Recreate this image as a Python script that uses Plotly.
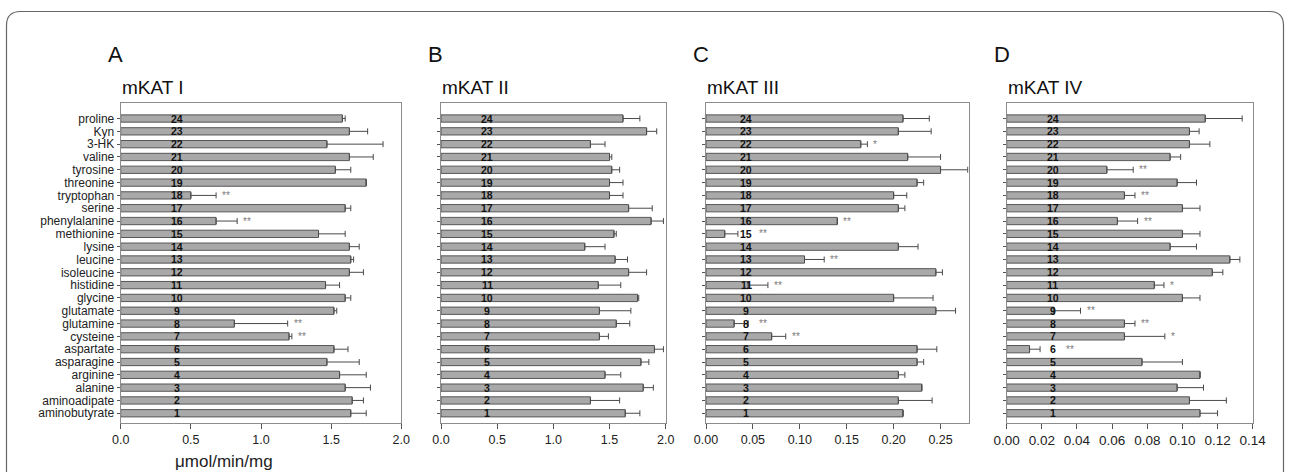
import plotly.graph_objects as go

W, H = 1291, 472
FONT = "Liberation Sans, Arial, Helvetica, sans-serif"

# ---------------- data ----------------
amino_acids = ["aminobutyrate", "aminoadipate", "alanine", "arginine", "asparagine",
               "aspartate", "cysteine", "glutamine", "glutamate", "glycine", "histidine",
               "isoleucine", "leucine", "lysine", "methionine", "phenylalanine", "serine",
               "tryptophan", "threonine", "tyrosine", "valine", "3-HK", "Kyn", "proline"]
bar_numbers = list(range(1, 25))

mkat1_values = [1.64, 1.65, 1.60, 1.56, 1.47, 1.52, 1.20, 0.81, 1.52, 1.60, 1.46, 1.63,
                1.64, 1.63, 1.41, 0.68, 1.60, 0.50, 1.75, 1.53, 1.63, 1.47, 1.63, 1.58]
mkat1_errors = [0.11, 0.08, 0.18, 0.19, 0.23, 0.10, 0.02, 0.38, 0.02, 0.04, 0.10, 0.10,
                0.02, 0.07, 0.19, 0.15, 0.04, 0.18, None, 0.11, 0.17, 0.40, 0.13, 0.02]
mkat1_marks = {18: "**", 16: "**", 8: "**", 7: "**"}

mkat2_values = [1.64, 1.33, 1.80, 1.46, 1.78, 1.90, 1.41, 1.56, 1.41, 1.75, 1.40, 1.67,
                1.55, 1.28, 1.54, 1.87, 1.67, 1.50, 1.50, 1.52, 1.50, 1.33, 1.83, 1.62]
mkat2_errors = [0.13, 0.26, 0.09, 0.14, 0.07, 0.08, 0.08, 0.12, 0.28, 0.01, 0.20, 0.16,
                0.11, 0.18, 0.02, 0.11, 0.21, 0.12, 0.12, 0.07, 0.02, 0.13, 0.09, 0.15]
mkat2_marks = {}

mkat3_values = [0.210, 0.205, 0.230, 0.205, 0.225, 0.225, 0.070, 0.030, 0.245, 0.200,
                0.045, 0.245, 0.105, 0.205, 0.020, 0.140, 0.205, 0.200, 0.225, 0.250,
                0.215, 0.165, 0.205, 0.210]
mkat3_errors = [None, 0.036, None, 0.007, 0.007, 0.021, 0.015, 0.015, 0.021, 0.042,
                0.021, 0.007, 0.021, 0.021, 0.014, None, 0.007, 0.014, 0.007, 0.029,
                0.035, 0.007, 0.035, 0.028]
mkat3_marks = {22: "*", 16: "**", 15: "**", 13: "**", 11: "**", 8: "**", 7: "**"}

mkat4_values = [0.110, 0.104, 0.097, 0.110, 0.077, 0.013, 0.067, 0.067, 0.027, 0.100,
                0.084, 0.117, 0.127, 0.093, 0.100, 0.063, 0.100, 0.067, 0.097, 0.057,
                0.093, 0.104, 0.104, 0.113]
mkat4_errors = [0.010, 0.021, 0.015, None, 0.023, 0.006, 0.023, 0.006, 0.015, 0.010,
                0.0055, 0.006, 0.0057, 0.015, 0.010, 0.0115, 0.010, 0.006, 0.011, 0.015,
                0.006, 0.0116, 0.0055, 0.021]
mkat4_marks = {20: "**", 18: "**", 16: "**", 11: "*", 9: "**", 8: "**", 7: "*", 6: "**"}

panel_letters = ["A", "B", "C", "D"]
panel_titles = ["mKAT I", "mKAT II", "mKAT III", "mKAT IV"]
x_ranges = [[0, 2.0], [0, 2.0], [0, 0.28], [0, 0.14]]
x_tickvals = [[0, 0.5, 1.0, 1.5, 2.0], [0, 0.5, 1.0, 1.5, 2.0],
              [0, 0.05, 0.10, 0.15, 0.20, 0.25],
              [0, 0.02, 0.04, 0.06, 0.08, 0.10, 0.12, 0.14]]
x_tickformats = [".1f", ".1f", ".2f", ".2f"]
x_axis_title = "μmol/min/mg"

values = [mkat1_values, mkat2_values, mkat3_values, mkat4_values]
errors = [mkat1_errors, mkat2_errors, mkat3_errors, mkat4_errors]
marks = [mkat1_marks, mkat2_marks, mkat3_marks, mkat4_marks]

# ---------------- layout geometry (pixels) ----------------
panel_px = [(120.7, 401.3), (441.0, 665.7), (706.0, 968.7), (1006.7, 1252.7)]
top_px, bottom_px = 102.5, 423.0
num_label_px = [56, 46, 40, 46]
tick_font_sizes = [12.5, 12.5, 12.5, 13.5]

fig = go.Figure()
annotations = []

for i in range(4):
    xa = "x" if i == 0 else f"x{i + 1}"
    ya = "y" if i == 0 else f"y{i + 1}"
    l, r = panel_px[i]
    px_per_unit = (r - l) / (x_ranges[i][1] - x_ranges[i][0])

    errs = errors[i]
    errs_minus = [None if e is None else 0 for e in errs]

    fig.add_trace(go.Bar(
        x=values[i], y=bar_numbers, orientation="h", width=0.57,
        marker=dict(color="#a9a9a9", line=dict(color="#4a4a4a", width=0.9)),
        error_x=dict(type="data", symmetric=False, array=errs, arrayminus=errs_minus,
                     color="#4a4a4a", thickness=1, width=3),
        xaxis=xa, yaxis=ya, showlegend=False, hoverinfo="x+y",
    ))

    label_x = num_label_px[i] / px_per_unit
    for n, v in zip(bar_numbers, values[i]):
        annotations.append(dict(
            x=label_x, y=n, xref=xa, yref=ya, text=f"<b>{n}</b>", showarrow=False,
            xanchor="center", yanchor="middle",
            font=dict(family=FONT, size=10.5, color="#111")))

    for n, star in marks[i].items():
        v = values[i][n - 1]
        e = errs[n - 1] or 0
        label_end = (num_label_px[i] + 7) / px_per_unit
        anchor = max(v + e, label_end)
        annotations.append(dict(
            x=anchor, y=n, xref=xa, yref=ya, text=star, showarrow=False,
            xanchor="left", yanchor="middle", xshift=4, yshift=0,
            font=dict(family=FONT, size=10, color="#7a7a7a")))

    fig.layout[("xaxis" if i == 0 else f"xaxis{i + 1}")] = dict(
        domain=[l / W, r / W], range=x_ranges[i], anchor=ya, automargin=False,
        tickvals=x_tickvals[i], tickformat=x_tickformats[i],
        ticks="outside", ticklen=5, tickcolor="#555", tickwidth=1,
        showline=True, linecolor="#8c8c8c", linewidth=1, mirror=True,
        showgrid=False, zeroline=False, fixedrange=True,
        tickfont=dict(family=FONT, size=tick_font_sizes[i], color="#222"),
    )
    fig.layout[("yaxis" if i == 0 else f"yaxis{i + 1}")] = dict(
        domain=[(H - bottom_px) / H, (H - top_px) / H], range=[0.24, 25.25], anchor=xa,
        automargin=False,
        tickvals=bar_numbers, ticktext=amino_acids if i == 0 else [""] * 24,
        showticklabels=(i == 0),
        ticks="outside", ticklen=3, tickcolor="#555", tickwidth=1,
        showline=True, linecolor="#8c8c8c", linewidth=1, mirror=True,
        showgrid=False, zeroline=False, fixedrange=True,
        tickfont=dict(family=FONT, size=12, color="#222"),
    )

    # panel letter and title
    annotations.append(dict(
        x=(l - 15) / W, y=1 - 54 / H, xref="paper", yref="paper", text=panel_letters[i],
        showarrow=False, xanchor="left", yanchor="middle",
        font=dict(family=FONT, size=22, color="#111")))
    annotations.append(dict(
        x=(l - 1) / W, y=1 - 88 / H, xref="paper", yref="paper", text=panel_titles[i],
        showarrow=False, xanchor="left", yanchor="middle",
        font=dict(family=FONT, size=19, color="#111")))

annotations.append(dict(
    x=224 / W, y=1 - 461 / H, xref="paper", yref="paper", text=x_axis_title,
    showarrow=False, xanchor="center", yanchor="middle",
    font=dict(family=FONT, size=17, color="#222")))

# rounded outer frame
x0, x1 = 6.5 / W, 1283.5 / W
y0, y1 = 1 - 490 / H, 1 - 11.5 / H
rx, ry = 14 / W, 14 / H
frame_path = (f"M {x0},{y0} L {x0},{y1 - ry} Q {x0},{y1} {x0 + rx},{y1} "
              f"L {x1 - rx},{y1} Q {x1},{y1} {x1},{y1 - ry} L {x1},{y0}")

fig.update_layout(
    width=W, height=H, autosize=False,
    margin=dict(l=0, r=0, t=0, b=0, pad=0),
    paper_bgcolor="white", plot_bgcolor="white",
    annotations=annotations,
    shapes=[dict(type="path", path=frame_path, xref="paper", yref="paper",
                 line=dict(color="#666", width=1.2), layer="above")],
    font=dict(family=FONT),
    barmode="group",
)

fig.write_html("out.html", include_plotlyjs=True, full_html=True,
               config={"displayModeBar": False, "responsive": False},
               post_script=("document.documentElement.style.margin='0';"
                            "document.body.style.margin='0';"
                            "document.body.style.overflow='hidden';"
                            "document.documentElement.style.overflow='hidden';"))
